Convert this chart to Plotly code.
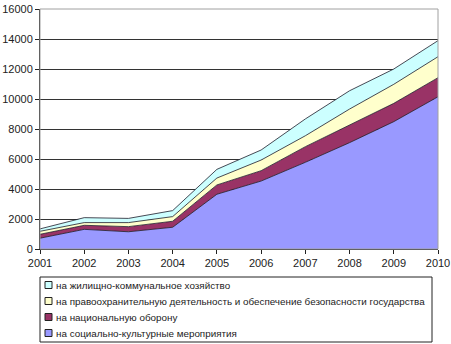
import plotly.graph_objects as go

# Years on the horizontal axis
years = [2001, 2002, 2003, 2004, 2005, 2006, 2007, 2008, 2009, 2010]

# Spending by category (stacked from the bottom up)
social = [720, 1310, 1150, 1450, 3650, 4530, 5780, 7090, 8490, 10150]
defense = [260, 270, 340, 400, 620, 690, 1040, 1180, 1220, 1270]
law = [200, 180, 270, 310, 460, 710, 730, 1060, 1270, 1400]
housing = [160, 330, 280, 400, 580, 670, 1120, 1220, 1020, 1070]

series_names = [
    "на социально-культурные мероприятия",
    "на национальную оборону",
    "на правоохранительную деятельность и обеспечение безопасности государства",
    "на жилищно-коммунальное хозяйство",
]
series_colors = ["#9999FF", "#993366", "#FFFFCC", "#CCFFFF"]

y_ticks = [0, 2000, 4000, 6000, 8000, 10000, 12000, 14000, 16000]
y_tick_text = [str(v) for v in y_ticks]
x_tick_text = [str(v) for v in years]

W, H = 451, 344
L, R, T, B = 40, 13, 9, 95
pw, ph = W - L - R, H - T - B


def px_x(x):
    return (x - L) / pw


def px_y(y):
    return (H - B - y) / ph


fig = go.Figure()
for name, vals, col in zip(series_names, [social, defense, law, housing], series_colors):
    fig.add_trace(go.Scatter(
        x=years, y=vals, name=name, stackgroup="one", mode="lines",
        line=dict(color="#1c1c2a", width=0.8), fillcolor=col,
        showlegend=False, hoverinfo="skip",
    ))

font = dict(family="Liberation Sans, Arial, sans-serif", size=11, color="#222")

# Plot-area frame
shapes = [dict(type="rect", xref="paper", yref="paper", x0=0, x1=1, y0=0, y1=1,
               line=dict(color="#a0a0a0", width=1), layer="above")]
annotations = []

# Legend box with entries listed top-down in reverse stacking order
box_l, box_r, box_t, box_b = 40, 432, 277, 342
shapes.append(dict(type="rect", xref="paper", yref="paper",
                   x0=px_x(box_l), x1=px_x(box_r), y0=px_y(box_b), y1=px_y(box_t),
                   line=dict(color="#222", width=1), fillcolor="white"))
row_y = [285, 301, 317, 333]
for i, (name, col) in enumerate(zip(series_names[::-1], series_colors[::-1])):
    cy = row_y[i]
    shapes.append(dict(type="rect", xref="paper", yref="paper",
                       x0=px_x(45), x1=px_x(52), y0=px_y(cy + 3.5), y1=px_y(cy - 3.5),
                       line=dict(color="#222", width=1), fillcolor=col))
    annotations.append(dict(xref="paper", yref="paper", x=px_x(54), y=px_y(cy),
                            text=name, showarrow=False, xanchor="left", yanchor="middle",
                            font=dict(family="Liberation Sans, Arial, sans-serif", size=9.85, color="#222")))

fig.update_layout(
    width=W, height=H,
    margin=dict(l=L, r=R, t=T, b=B),
    paper_bgcolor="white", plot_bgcolor="white",
    font=font,
    shapes=shapes, annotations=annotations,
    showlegend=False,
    xaxis=dict(range=[years[0], years[-1]], tickvals=years, ticktext=x_tick_text,
               ticks="outside", ticklen=4, automargin=False,
               tickcolor="#222", showgrid=False, showline=True, linecolor="#222",
               linewidth=1, zeroline=False, tickfont=font),
    yaxis=dict(range=[0, 16000], tickvals=y_ticks, ticktext=y_tick_text,
               ticks="outside", ticklen=4, automargin=False,
               tickcolor="#222", showgrid=True, gridcolor="#333", gridwidth=1,
               showline=True, linecolor="#222", linewidth=1, zeroline=False,
               tickfont=font),
)

fig.write_html("out.html")
